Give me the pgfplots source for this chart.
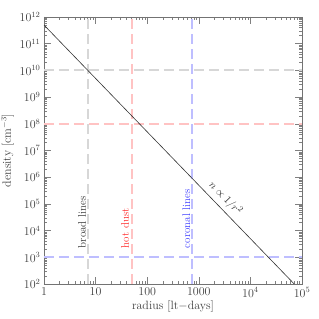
\documentclass[border=0pt]{standalone}
\usepackage{pgfplots}
\pgfplotsset{compat=1.18}
\definecolor{refgray}{RGB}{215,215,215}
\definecolor{refred}{RGB}{255,195,195}
\definecolor{refblue}{RGB}{190,190,255}
\begin{document}
\begin{tikzpicture}
\path[use as bounding box] (-44pt,-35pt) rectangle (275pt,284pt);
\begin{axis}[
  at={(0,0)}, anchor=south west,
  scale only axis, width=258pt, height=267pt,
  xmode=log, ymode=log,
  xmin=1, xmax=1e5, ymin=1e2, ymax=1e12,
  xtick={1,10,100,1000,1e4,1e5},
  xticklabels={1,10,100,1000,$10^4$,$10^5$},
  ytick={1e2,1e3,1e4,1e5,1e6,1e7,1e8,1e9,1e10,1e11,1e12},
  tick align=inside, tick pos=both,
  major tick length=7pt, minor tick length=3.5pt,
  axis line style={black!55},
  every tick/.style={black!50},
  tick label style={black!75, font=\fontsize{12}{14}\selectfont},
  label style={black!75, font=\fontsize{12}{14}\selectfont},
  xlabel={radius [lt$-$days]},
  ylabel={density [cm$^{-3}$]},
  xlabel style={yshift=3pt},
  ylabel style={yshift=-1pt},
  clip=true,
]
\addplot[color=refgray, line width=1.8pt, dash pattern=on 10pt off 5pt] coordinates {(1,1e10) (1e5,1e10)};
\addplot[color=refred, line width=1.8pt, dash pattern=on 10pt off 5pt] coordinates {(1,1e8) (1e5,1e8)};
\addplot[color=refblue, line width=1.8pt, dash pattern=on 10pt off 5pt] coordinates {(1,1e3) (1e5,1e3)};
\addplot[color=refgray, line width=1.8pt, dash pattern=on 10pt off 5pt] coordinates {(7.07,1e2) (7.07,1e12)};
\addplot[color=refred, line width=1.8pt, dash pattern=on 10pt off 5pt] coordinates {(50,1e2) (50,1e12)};
\addplot[color=refblue, line width=1.8pt, dash pattern=on 10pt off 5pt] coordinates {(750,1e2) (750,1e12)};
\addplot[color=black!80, line width=0.6pt] coordinates {(1,5e11) (70711,1e2)};
\node[rotate=90, anchor=base west, font=\fontsize{11}{13}\selectfont, text=black!80, inner sep=1pt] at (axis cs:6.5,2.0e3) {broad lines};
\node[rotate=90, anchor=base west, font=\fontsize{11}{13}\selectfont, text=red!85, inner sep=1pt] at (axis cs:44,2.0e3) {hot dust};
\node[rotate=90, anchor=base west, font=\fontsize{11}{13}\selectfont, text=blue!75, inner sep=1pt] at (axis cs:680,2.0e3) {coronal lines};
\node[rotate=-46, font=\fontsize{11}{13}\selectfont, text=black!80, inner sep=1pt] at (axis cs:3300,1.6e5) {$n \propto 1/r^{2}$};
\end{axis}
\end{tikzpicture}
\end{document}
